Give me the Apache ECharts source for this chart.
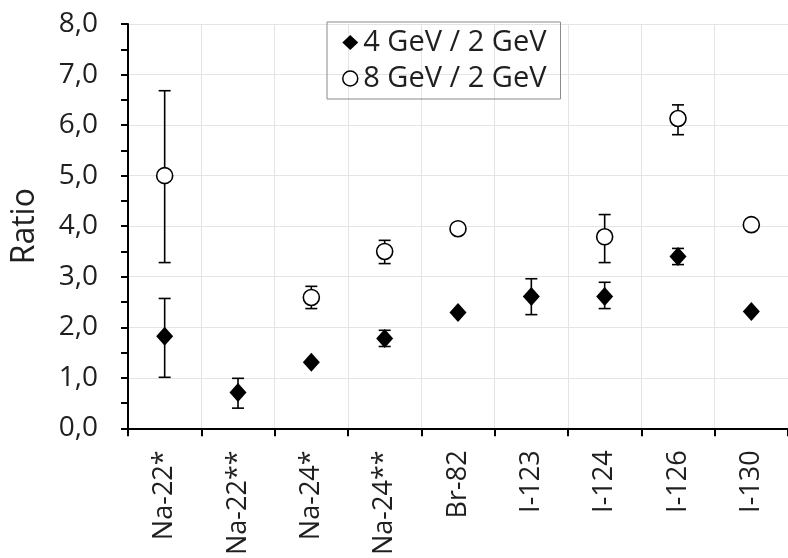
<!DOCTYPE html>
<html>
<head>
<meta charset="utf-8">
<script src="https://cdn.jsdelivr.net/npm/echarts@6/dist/echarts.min.js"></script>
<style>
  html, body { margin: 0; padding: 0; background: #fff; }
  #chart { width: 788px; height: 558px; }
</style>
</head>
<body>
<div id="chart"></div>
<script>
// categories (nuclides)
var isotopes = ["Na-22*", "Na-22**", "Na-24*", "Na-24**", "Br-82", "I-123", "I-124", "I-126", "I-130"];

// 4 GeV / 2 GeV ratio with error range
var ratio4 = [1.82, 0.71, 1.31, 1.78, 2.29, 2.61, 2.61, 3.40, 2.31];
var low4   = [1.01, 0.40, 1.31, 1.62, 2.29, 2.25, 2.37, 3.24, 2.31];
var high4  = [2.57, 0.99, 1.31, 1.94, 2.29, 2.96, 2.89, 3.56, 2.31];

// 8 GeV / 2 GeV ratio with error range (no data for Na-22**, I-123)
var ratio8 = [5.00, null, 2.59, 3.50, 3.95, null, 3.79, 6.13, 4.03];
var low8   = [3.28, null, 2.37, 3.26, 3.95, null, 3.28, 5.81, 4.03];
var high8  = [6.68, null, 2.81, 3.72, 3.95, null, 4.23, 6.40, 4.03];

var yTicks = [0, 1, 2, 3, 4, 5, 6, 7, 8];

var fontFam = "'Open Sans', 'Noto Sans', sans-serif";

function errData(low, high) {
  var out = [];
  for (var i = 0; i < isotopes.length; i++) {
    if (low[i] == null || high[i] - low[i] < 0.01) continue;
    out.push([i, low[i], high[i]]);
  }
  return out;
}

function renderErr(params, api) {
  var lo = api.coord([api.value(0), api.value(1)]);
  var hi = api.coord([api.value(0), api.value(2)]);
  var cap = 6;
  var st = { stroke: "#000", lineWidth: 1.6 };
  return {
    type: "group",
    children: [
      { type: "line", shape: { x1: lo[0], y1: lo[1], x2: hi[0], y2: hi[1] }, style: st },
      { type: "line", shape: { x1: lo[0] - cap, y1: lo[1], x2: lo[0] + cap, y2: lo[1] }, style: st },
      { type: "line", shape: { x1: hi[0] - cap, y1: hi[1], x2: hi[0] + cap, y2: hi[1] }, style: st }
    ]
  };
}

var chart = echarts.init(document.getElementById("chart"));
var option = {
  animation: false,
  textStyle: { fontFamily: fontFam },
  grid: { left: 128, top: 24, right: -4, bottom: 129 },
  legend: {
    left: 327,
    top: 22,
    orient: "vertical",
    padding: [6, 14, 6, 15],
    itemGap: 7,
    itemWidth: 16,
    itemHeight: 15,
    borderColor: "#8a8a8a",
    borderWidth: 1,
    textStyle: { fontSize: 29, color: "#1f1f1f", fontFamily: fontFam },
    data: [
      { name: "4 GeV / 2 GeV", icon: "diamond", itemStyle: { color: "#000", borderWidth: 0 } },
      { name: "8 GeV / 2 GeV", icon: "circle", itemStyle: { color: "#fff", borderColor: "#000", borderWidth: 1.5 } }
    ]
  },
  xAxis: {
    type: "category",
    data: isotopes,
    boundaryGap: true,
    axisLine: { lineStyle: { color: "#000", width: 2 } },
    axisTick: { show: true, length: 8, lineStyle: { color: "#000", width: 2 } },
    axisLabel: { rotate: 90, margin: 22, fontSize: 27, color: "#1f1f1f", interval: 0, fontFamily: fontFam },
    splitLine: { show: true, lineStyle: { color: "#e4e4e4", width: 1 } }
  },
  yAxis: {
    type: "value",
    min: yTicks[0],
    max: yTicks[yTicks.length - 1],
    interval: 1,
    name: "Ratio",
    nameLocation: "middle",
    nameGap: 87,
    nameTextStyle: { fontSize: 32, color: "#1f1f1f", fontFamily: fontFam },
    axisLine: { show: true, lineStyle: { color: "#000", width: 2 } },
    axisTick: { show: true, length: 7, lineStyle: { color: "#000", width: 2 } },
    minorTick: { show: true, splitNumber: 2, length: 7, lineStyle: { color: "#000", width: 2 } },
    axisLabel: {
      margin: 30,
      fontSize: 28,
      color: "#1f1f1f",
      fontFamily: fontFam,
      formatter: function (v) { return v.toFixed(1).replace(".", ","); }
    },
    splitLine: { show: true, lineStyle: { color: "#e4e4e4", width: 1 } }
  },
  series: [
    {
      type: "custom",
      name: "err4",
      renderItem: renderErr,
      data: errData(low4, high4),
      z: 2
    },
    {
      type: "custom",
      name: "err8",
      renderItem: renderErr,
      data: errData(low8, high8),
      z: 2
    },
    {
      type: "scatter",
      name: "4 GeV / 2 GeV",
      symbol: "diamond",
      symbolSize: [17, 19],
      itemStyle: { color: "#000", opacity: 1 },
      data: ratio4,
      z: 5
    },
    {
      type: "scatter",
      name: "8 GeV / 2 GeV",
      symbol: "circle",
      symbolSize: 16,
      itemStyle: { color: "#fff", borderColor: "#000", borderWidth: 1.6, opacity: 1 },
      data: ratio8,
      z: 5
    }
  ]
};
chart.setOption(option);
</script>
</body>
</html>
